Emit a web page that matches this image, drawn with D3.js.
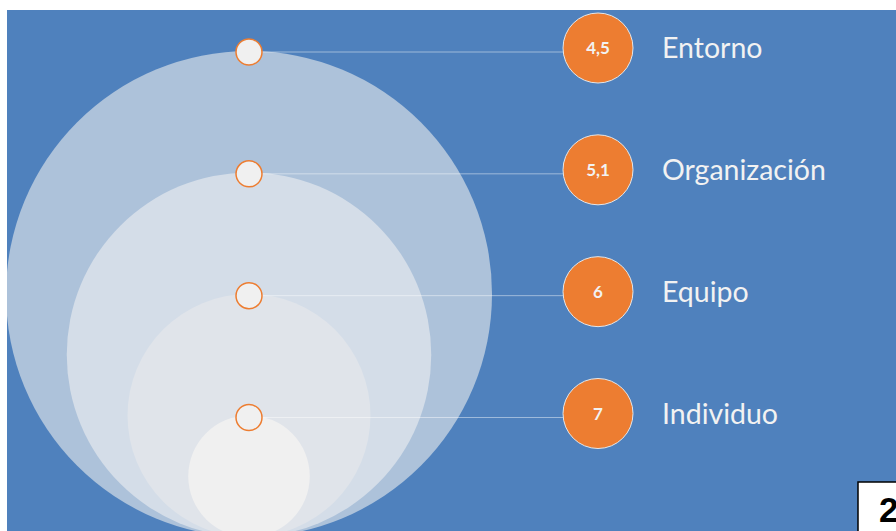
<!DOCTYPE html>
<html>
<head>
<meta charset="utf-8">
<script src="https://cdn.jsdelivr.net/npm/d3@7"></script>
<style>
  body { margin: 0; background: #fff; }
  svg { display: block; }
</style>
</head>
<body>
<svg id="chart" width="896" height="531"></svg>
<script>
// levels from outer to inner ring
var levels = ["Entorno", "Organización", "Equipo", "Individuo"];
var scores = [4.5, 5.1, 6, 7];
var ringSize = [4, 3, 2, 1];
var ringFill = ["#adc2da", "#d4dde8", "#e0e4ea", "#f0f0f0"];
var pageNumber = "2";

var svg = d3.select("#chart"),
  width = +svg.attr("width"),
  height = +svg.attr("height");

var panel = { x: 7, y: 10, w: width - 7, h: height - 10 };
var cx = 249, bottom = 537;

var rScale = d3.scaleLinear().domain([0, 4]).range([0, 243]);
// vertical position of each level's marker / badge
var yScale = d3.scalePoint().domain(levels).range([52, 417.5]);
var fmt = function (v) { return String(v).replace(".", ","); };

svg.append("defs").append("clipPath").attr("id", "clip")
  .append("rect")
  .attr("x", panel.x).attr("y", panel.y)
  .attr("width", panel.w).attr("height", panel.h);

// blue background
svg.append("rect")
  .attr("x", panel.x).attr("y", panel.y)
  .attr("width", panel.w).attr("height", panel.h)
  .attr("fill", "#4f81bd");

var g = svg.append("g").attr("clip-path", "url(#clip)");

// nested circles, all touching at the bottom
g.selectAll("circle.ring")
  .data(ringSize)
  .enter().append("circle")
  .attr("class", "ring")
  .attr("cx", cx)
  .attr("cy", function (d) { return bottom - rScale(d); })
  .attr("r", function (d) { return rScale(d); })
  .attr("fill", function (d, i) { return ringFill[i]; });

var items = levels.map(function (name, i) {
  return { name: name, score: scores[i], y: yScale(name) };
});

var badgeX = 598, badgeR = 35, labelX = 662;

// connector lines
g.selectAll("line.link")
  .data(items)
  .enter().append("line")
  .attr("x1", cx + 13).attr("x2", badgeX - badgeR)
  .attr("y1", function (d) { return d.y; })
  .attr("y2", function (d) { return d.y; })
  .attr("stroke", "#ffffff")
  .attr("stroke-opacity", 0.45)
  .attr("stroke-width", 1);

// small markers on top of rings
g.selectAll("circle.marker")
  .data(items)
  .enter().append("circle")
  .attr("cx", cx)
  .attr("cy", function (d) { return d.y; })
  .attr("r", 13)
  .attr("fill", "#f0f0f0")
  .attr("stroke", "#ed7d31")
  .attr("stroke-width", 1.5);

// orange badges with the score
var badge = g.selectAll("g.badge")
  .data(items)
  .enter().append("g")
  .attr("transform", function (d) { return "translate(" + badgeX + "," + (d.y - 4) + ")"; });

badge.append("circle")
  .attr("r", badgeR)
  .attr("fill", "#ed7d31")
  .attr("stroke", "#e6e6e6")
  .attr("stroke-width", 1);

badge.append("text")
  .attr("text-anchor", "middle")
  .attr("dy", "0.36em")
  .attr("fill", "#f2f2f2")
  .style("font", "bold 17px Lato, sans-serif")
  .text(function (d) { return fmt(d.score); });

badge.append("text")
  .attr("x", labelX - badgeX)
  .attr("dy", "0.36em")
  .attr("fill", "#f2f2f2")
  .style("font", "28.5px Lato, sans-serif")
  .text(function (d) { return d.name; });

// page number box
svg.append("rect")
  .attr("x", 858).attr("y", 482)
  .attr("width", 60).attr("height", 70)
  .attr("fill", "#fff")
  .attr("stroke", "#000")
  .attr("stroke-width", 1.5);

svg.append("text")
  .attr("x", 879).attr("y", 522)
  .attr("fill", "#000")
  .style("font", "bold 35px Arial, 'Liberation Sans', sans-serif")
  .text(pageNumber);
</script>
</body>
</html>
